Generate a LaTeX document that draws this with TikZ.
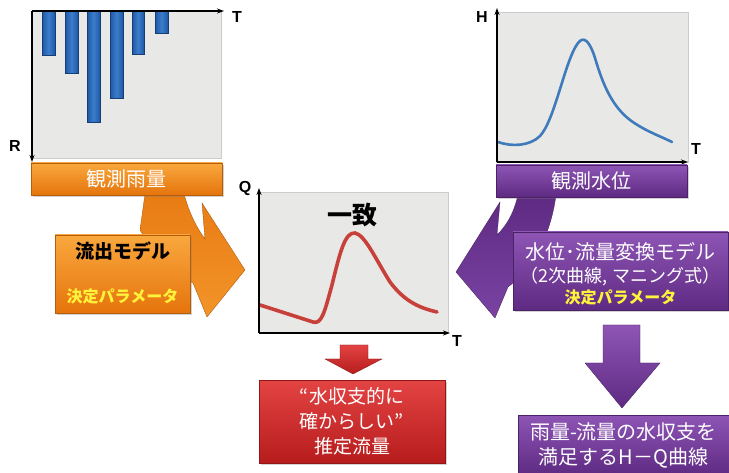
\documentclass[tikz,border=0pt]{standalone}
\usepackage{fontspec}
\setmainfont{Liberation Sans}
\newfontfamily\jp{Noto Sans CJK JP}
\usetikzlibrary{shadows,arrows.meta}
\definecolor{orA}{HTML}{F9A83E}
\definecolor{orB}{HTML}{E5740C}
\definecolor{orC}{HTML}{F29429}
\definecolor{puA}{HTML}{8E55B5}
\definecolor{puB}{HTML}{5E2A82}
\definecolor{puC}{HTML}{7A43A3}
\definecolor{reA}{HTML}{E34343}
\definecolor{reB}{HTML}{B71C1C}
\definecolor{panelbg}{HTML}{E8E8E6}
\definecolor{barA}{HTML}{1E58A6}
\definecolor{barB}{HTML}{3C7DCB}
\definecolor{hcurve}{HTML}{3F7BBB}
\definecolor{qcurve}{HTML}{C8403A}
\definecolor{yel}{HTML}{FFF23A}
\tikzset{
  panel/.style={draw=gray!40, fill=panelbg, inner sep=0pt, line width=0.4pt},
  obox/.style={inner sep=0pt, top color=orA, bottom color=orB, draw=orB!80!black, line width=0.3pt,
     drop shadow={opacity=0.35, shadow xshift=2pt, shadow yshift=-2pt}},
  pbox/.style={inner sep=0pt, top color=puA, bottom color=puB, draw=puB!80!black, line width=0.3pt,
     drop shadow={opacity=0.35, shadow xshift=2pt, shadow yshift=-2pt}},
  rbox/.style={inner sep=0pt, top color=reA, bottom color=reB, draw=reB!80!black, line width=0.3pt,
     drop shadow={opacity=0.35, shadow xshift=2pt, shadow yshift=-2pt}},
  axisline/.style={line width=1.2pt, -{Stealth[length=7pt,width=5pt]}},
  axlabel/.style={font=\fontsize{16}{16}\selectfont\bfseries, inner sep=0pt},
  rbar/.style={shading=axis, left color=barA, right color=barA, middle color=barB, draw=barA!70!black, line width=0.3pt},
  wtext/.style={font=\jp\fontsize{20}{25}\selectfont, text=white, inner sep=0pt, align=center},
  btext/.style={font=\jp\bfseries\fontsize{19}{19}\selectfont, text=black, inner sep=0pt},
  ytext/.style={font=\jp\bfseries\fontsize{16}{16}\selectfont, text=yel, inner sep=0pt},
}
\begin{document}
\begin{tikzpicture}[x=1pt,y=-1pt]
\useasboundingbox (0,0) rectangle (729,473);
\fill[white] (0,0) rectangle (729,473);

% ---- panels
\node[panel, minimum width=190pt, minimum height=147pt] (rain) at (126,84.5) {};
\node[panel, minimum width=192pt, minimum height=150pt] (lev) at (592,87) {};
\node[panel, minimum width=189pt, minimum height=141pt] (qp) at (353.5,262.5) {};

% ---- rain bars
\foreach \xa/\xb/\yb in {42/55/55, 65/78/73, 87/100/122, 110/123/98, 132/144/54, 155/168/33}{
  \path[rbar] (\xa,11) rectangle (\xb,\yb);
}
% rain axes
\coordinate (rO) at (32,11);
\coordinate (rT) at (224,11);
\coordinate (rR) at (32,162);
\draw[axisline] (rO) -- (rT);
\draw[axisline] (rO) -- (rR);
\node[axlabel] (lT1) at (237,17) {T};
\node[axlabel] (lR) at (15,146) {R};

% ---- water level panel
\coordinate (hO) at (497,162);
\coordinate (hH) at (497,8);
\coordinate (hT) at (688,162);
\draw[hcurve, line width=2.6pt, line cap=round]
  (498,142) .. controls (512,147) and (530,146) .. (540,136)
  .. controls (555,120) and (565,60) .. (578,43)
  .. controls (584,35) and (590,42) .. (595,58)
  .. controls (603,85) and (612,106) .. (630,120)
  .. controls (645,131) and (660,136) .. (672,142);
\draw[axisline] (hO) -- (hH);
\draw[axisline] (hO) -- (hT);
\node[axlabel] (lH) at (482,17) {H};
\node[axlabel] (lT2) at (696,149) {T};

% ---- Q panel
\coordinate (qO) at (259,333);
\coordinate (qQ) at (259,188);
\coordinate (qT) at (450,333);
\draw[qcurve, line width=3.6pt, line cap=round]
  (260,305) -- (313,322)
  .. controls (322,325) and (325,310) .. (332,285)
  .. controls (340,252) and (345,232) .. (355,233)
  .. controls (365,235) and (375,258) .. (390,282)
  .. controls (405,302) and (420,308) .. (437,312);
\draw[axisline] (qO) -- (qQ);
\draw[axisline] (qO) -- (qT);
\node[axlabel] (lQ) at (245,188) {Q};
\node[axlabel] (lT3) at (457,341) {T};
\node[font=\jp\bfseries\fontsize{25}{25}\selectfont, inner sep=0pt] (itchi) at (352,215) {一致};

% ---- curved orange arrow
\path[top color=orB!85!orA, bottom color=orC, draw=orB!70!black, line width=0.3pt]
  (145,194) -- (184,194) .. controls (189,212) and (196,227) .. (205,239)
  -- (202,203) -- (245,270) -- (207,317) -- (193,283)
  .. controls (170,270) and (152,250) .. (140,230) -- cycle;
% ---- curved purple arrow
\path[top color=puB, bottom color=puC, draw=puB!70!black, line width=0.3pt]
  (518,195) .. controls (514,212) and (508,224) .. (497,235)
  -- (500,202) -- (456,272) -- (495,318) -- (508,287)
  .. controls (530,270) and (550,240) .. (556,195) -- cycle;

% ---- top boxes
\node[obox, minimum width=191pt, minimum height=32pt] (obs1) at (126.5,179) {};
\node[wtext] (obs1t) at (obs1) {観測雨量};
\node[pbox, minimum width=191pt, minimum height=32pt] (obs2) at (591.5,181) {};
\node[wtext] (obs2t) at (obs2) {観測水位};

% ---- model boxes
\node[obox, minimum width=135pt, minimum height=78pt] (runoff) at (122.5,274) {};
\node[btext] (runofft) at (122.5,251) {流出モデル};
\node[ytext] (runoffp) at (122.5,296) {決定パラメータ};

\node[pbox, minimum width=215pt, minimum height=78pt] (hq) at (620.5,271) {};
\node[wtext] (hqt1) at (620.5,252) {水位･流量変換モデル};
\node[wtext, font=\jp\fontsize{18}{18}\selectfont] (hqt2) at (620.5,277) {（2次曲線, マニング式）};
\node[ytext] (hqp) at (620.5,297) {決定パラメータ};

% ---- red down arrow
\path[top color=reA, bottom color=reB, draw=reB!70!black, line width=0.3pt]
  (340,345) -- (368,345) -- (368,359) -- (382,359) -- (353,374) -- (325,359) -- (340,359) -- cycle;
\node[rbox, minimum width=186pt, minimum height=83pt] (est) at (352,421.5) {};
\node[wtext, font=\jp\fontsize{19}{25}\selectfont] (estt) at (est) {“水収支的に\\確からしい”\\推定流量};

% ---- purple down arrow
\path[top color=puA, bottom color=puB, draw=puB!70!black, line width=0.3pt]
  (603,325) -- (640,325) -- (640,363) -- (660,363) -- (622,408) -- (585,363) -- (603,363) -- cycle;
\node[pbox, minimum width=211pt, minimum height=60pt] (res) at (623.5,445) {};
\node[wtext] (rest) at (res) {雨量-流量の水収支を\\満足するH－Q曲線};
\end{tikzpicture}
\end{document}
